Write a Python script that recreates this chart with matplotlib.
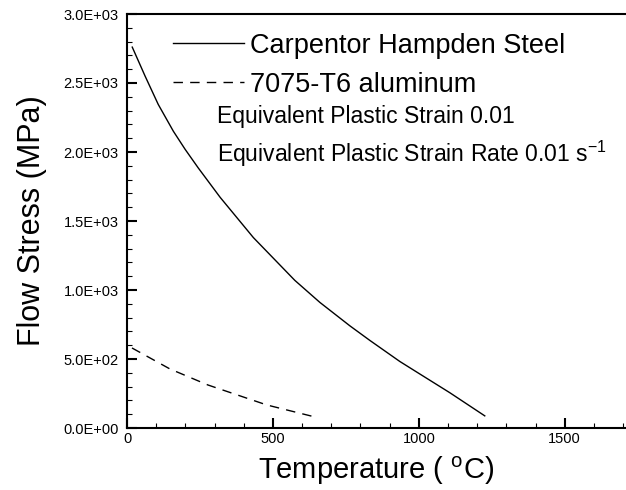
#Import standard libraries
import numpy as np
import matplotlib
matplotlib.use("Agg")
import matplotlib.pyplot as plt
from matplotlib.ticker import MultipleLocator, FuncFormatter

plt.rcParams['font.family'] = ['Liberation Sans', 'DejaVu Sans']
plt.rcParams['mathtext.fontset'] = 'custom'
plt.rcParams['mathtext.rm'] = 'Liberation Sans'

#Data
steel_T = [18, 62, 107, 159, 199, 244, 319, 433, 575, 661, 764, 832, 935, 1003, 1106, 1226]
steel_stress = [2760, 2550, 2345, 2150, 2020, 1885, 1672, 1380, 1070, 910, 740, 635, 482, 392, 256, 88]

alu_T = [17, 147, 277, 479, 644]
alu_stress = [580, 428, 312, 167, 80]

series_labels = ["Carpentor Hampden Steel", "7075-T6 aluminum"]
notes = ["Equivalent Plastic Strain 0.01",
         r"Equivalent Plastic Strain Rate 0.01 $\mathregular{s^{-1}}$"]

#Figure
fig = plt.figure(figsize=(6.26, 4.90), dpi=100)
ax = fig.add_axes([127/626, 1 - 428/490, 1 - 127/626, (428 - 14)/490])

ax.plot(steel_T, steel_stress, color='black', linewidth=1.0, label=series_labels[0])
ax.plot(alu_T, alu_stress, color='black', linewidth=1.0, dashes=(6.8, 5.2), label=series_labels[1])

ax.set_xlim(0, 1710)
ax.set_ylim(0, 3000)

ax.xaxis.set_major_locator(MultipleLocator(500))
ax.xaxis.set_minor_locator(MultipleLocator(100))
ax.yaxis.set_major_locator(MultipleLocator(500))
ax.yaxis.set_minor_locator(MultipleLocator(100))
ax.yaxis.set_major_formatter(FuncFormatter(lambda v, p: f"{v:.1E}"))

ax.tick_params(which='both', direction='in', top=False, right=False, colors='black')
ax.tick_params(which='major', length=7, width=1.5, labelsize=10.5)
ax.tick_params(axis='y', which='major', pad=6)
ax.tick_params(axis='x', which='major', pad=3)
ax.tick_params(which='minor', length=3.5, width=0.8)

for side in ['left', 'bottom', 'top']:
    ax.spines[side].set_linewidth(1.5)
ax.spines['right'].set_visible(False)

ax.set_xlabel(r"Temperature ( $^{\mathregular{o}}$C)", fontsize=21, labelpad=6)
ax.set_ylabel("Flow Stress (MPa)", fontsize=22, labelpad=12)

leg = ax.legend(loc='upper left', bbox_to_anchor=(0.093, 0.955), frameon=False,
                fontsize=19.5, handlelength=2.6, handletextpad=0.22,
                labelspacing=0.48, borderpad=0, borderaxespad=0)

ax.text(308, 2210, notes[0], fontsize=16.5, va='baseline', ha='left')
ax.text(308, 1928, notes[1], fontsize=16.5, va='baseline', ha='left')

fig.savefig("out.png", dpi=100)
